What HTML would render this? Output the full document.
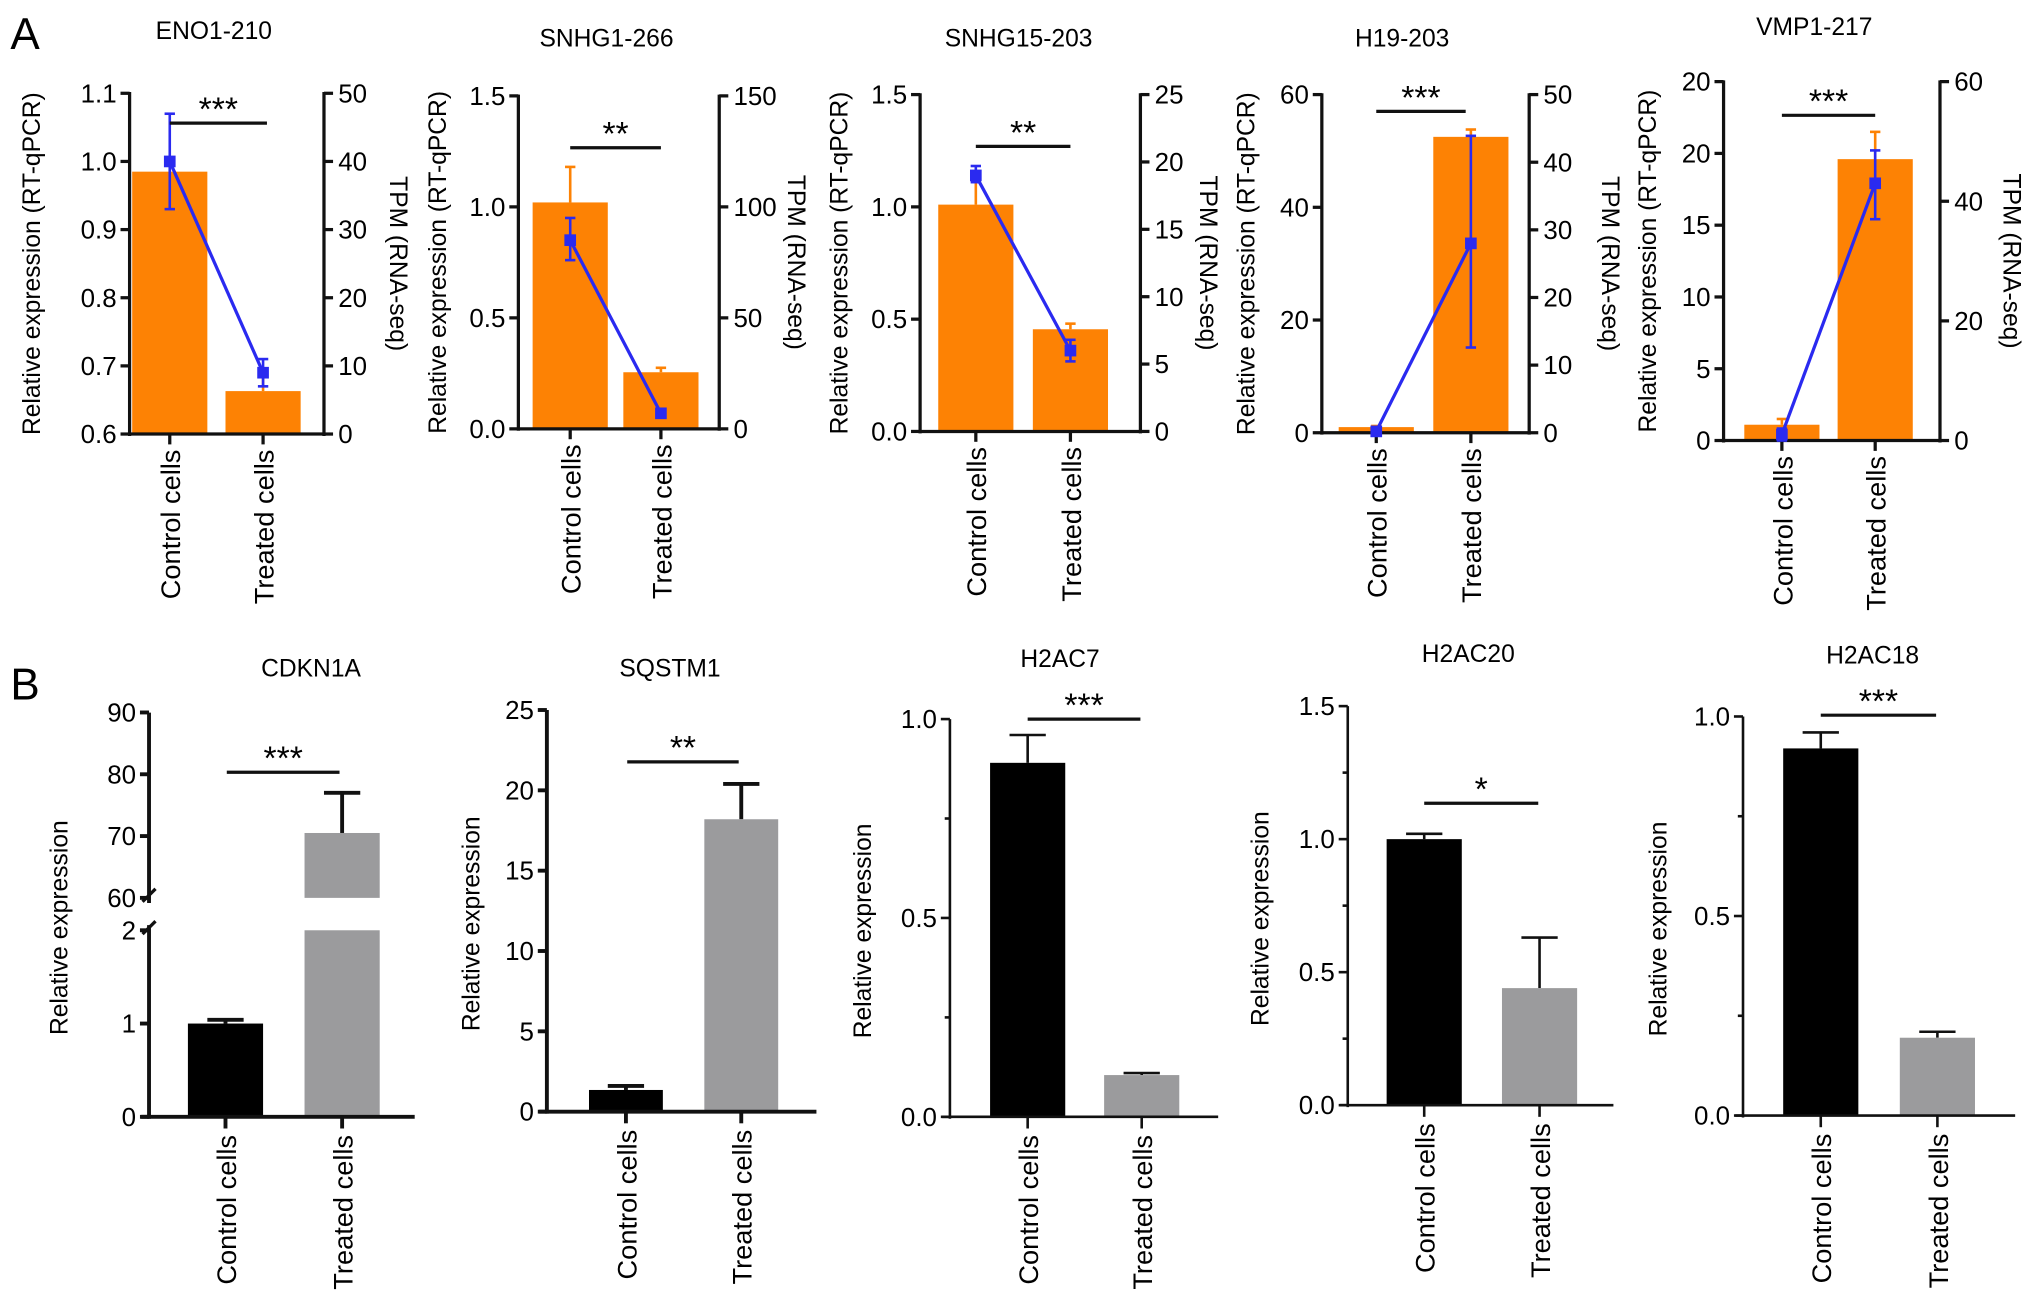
<!DOCTYPE html>
<html><head><meta charset="utf-8">
<style>
html,body{margin:0;padding:0;background:#fff;}
svg{display:block;font-family:"Liberation Sans",Arial,sans-serif;}
</style></head>
<body>
<svg id="fig" width="2032" height="1306" viewBox="0 0 1568 1008" preserveAspectRatio="none" xmlns="http://www.w3.org/2000/svg">
<text x="8" y="38" font-size="34">A</text>
<text x="8" y="540" font-size="34">B</text>
</svg>
<script>
const categories = ["Control cells","Treated cells"];
// Panel A
const aTitles = ["ENO1-210","SNHG1-266","SNHG15-203","H19-203","VMP1-217"];
const aBarVals = [[0.985,0.663],[1.02,0.255],[1.01,0.455],[1.0,52.5],[1.1,19.6]];
const aBarErr = [[1.0,0.69],[1.18,0.275],[1.12,0.48],[1.2,53.8],[1.5,21.5]];
const aLineVals = [[40,9],[85,7],[19,6],[0.2,28],[1,43]];
const aLineLo = [[33,7],[76,6],[18.5,5.2],[0,12.6],[0,37]];
const aLineHi = [[47,11],[95,8],[19.7,6.8],[0.5,43.9],[2,48.5]];
const aLeftTicks = [[0.6,0.7,0.8,0.9,1.0,1.1],[0,0.5,1.0,1.5],[0,0.5,1.0,1.5],[0,20,40,60],[0,5,10,15,20,25]];
const aLeftLabels = [["0.6","0.7","0.8","0.9","1.0","1.1"],["0.0","0.5","1.0","1.5"],["0.0","0.5","1.0","1.5"],["0","20","40","60"],["0","5","10","15","20","20"]];
const aRightTicks = [[0,10,20,30,40,50],[0,50,100,150],[0,5,10,15,20,25],[0,10,20,30,40,50],[0,20,40,60]];
const aSig = ["***","**","**","***","***"];
// Panel B
const bTitles = ["CDKN1A","SQSTM1","H2AC7","H2AC20","H2AC18"];
const bBarVals = [[1.0,70.5],[1.35,18.2],[0.89,0.105],[1.0,0.44],[0.92,0.195]];
const bBarErr = [[1.04,77],[1.6,20.4],[0.96,0.11],[1.02,0.63],[0.96,0.21]];
const bTicks = [[0,1,2,60,70,80,90],[0,5,10,15,20,25],[0,0.5,1.0],[0,0.5,1.0,1.5],[0,0.5,1.0]];
const bTickLabels = [["0","1","2","60","70","80","90"],["0","5","10","15","20","25"],["0.0","0.5","1.0"],["0.0","0.5","1.0","1.5"],["0.0","0.5","1.0"]];
const bMinor = [[],[],[0.25,0.75],[0.25,0.75,1.25],[0.25,0.75]];
const bSig = ["***","**","***","*","***"];

const aLayout = [
 {ax:100,rx:250,top:72,bot:335,min:0.6,max:1.1,rmax:50,c:[131,203],tx:165,ty:30,yl:31,yr:301,sx:[131,206],sy:95},
 {ax:400,rx:555,top:74,bot:331,min:0,max:1.5,rmax:150,c:[440,510],tx:468,ty:36,yl:344,yr:608,sx:[440,510],sy:114},
 {ax:710,rx:880,top:73,bot:333,min:0,max:1.5,rmax:25,c:[753,826],tx:786,ty:36,yl:654,yr:926,sx:[753,826],sy:113},
 {ax:1020,rx:1180,top:73,bot:334,min:0,max:60,rmax:50,c:[1062,1135],tx:1082,ty:36,yl:968,yr:1236,sx:[1062,1131],sy:86},
 {ax:1330,rx:1497,top:63,bot:340,min:0,max:25,rmax:60,c:[1375,1447],tx:1400,ty:27,yl:1278,yr:1546,sx:[1375,1447],sy:89}
];
const bLayout = [
 {ax:115,right:320,top:550,bot:862,max:90,c:[174,264],bw:58,tx:240,ty:522,yl:52,sx:[175,262],sy:596,lw:3},
 {ax:422,right:630,top:548,bot:858,max:25,c:[483,572],bw:57,tx:517,ty:522,yl:370,sx:[484,570],sy:588,lw:3},
 {ax:733,right:940,top:555,bot:862,max:1.0,c:[793,881],bw:58,tx:818,ty:515,yl:672,sx:[793,880],sy:555,lw:2},
 {ax:1040,right:1245,top:545,bot:853,max:1.5,c:[1099,1188],bw:58,tx:1133,ty:511,yl:979,sx:[1099,1187],sy:620,lw:2},
 {ax:1345,right:1555,top:553,bot:861,max:1.0,c:[1405,1495],bw:58,tx:1445,ty:512,yl:1286,sx:[1405,1494],sy:552,lw:2}
];

const NS="http://www.w3.org/2000/svg";
const svg=document.getElementById('fig');
function mk(tag,attrs,parent){const e=document.createElementNS(NS,tag);for(const k in attrs)e.setAttribute(k,attrs[k]);(parent||svg).appendChild(e);return e;}
function line(g,x1,y1,x2,y2,c,w){return mk('line',{x1:x1,y1:y1,x2:x2,y2:y2,stroke:c,'stroke-width':w},g);}
function txt(g,x,y,s,size,anchor,rot){const t=mk('text',{x:x,y:y,'font-size':size,'text-anchor':anchor||'middle'},g);if(rot!==undefined)t.setAttribute('transform','rotate('+rot+' '+x+' '+y+')');t.textContent=s;return t;}

const ORANGE="#fd8204", BLUE="#2a2af0";
aTitles.forEach((title,i)=>{
  const L=aLayout[i];
  const g=mk('g',{});
  
  
  const yL=v=>L.bot-(v-L.min)/(L.max-L.min)*(L.bot-L.top);
  const yR=v=>L.bot-v/L.rmax*(L.bot-L.top);
  const t=txt(g,L.tx,L.ty,title,19);
  
  
  categories.forEach((c,j)=>{
    const x=L.c[j];
    line(g,x,yL(aBarVals[i][j]),x,yL(aBarErr[i][j]),ORANGE,2);
    line(g,x-4,yL(aBarErr[i][j]),x+4,yL(aBarErr[i][j]),ORANGE,2);
    const b=mk('rect',{x:x-29,y:yL(aBarVals[i][j]),width:58,height:L.bot-yL(aBarVals[i][j]),fill:ORANGE},g);
    
    
  });
  line(g,L.ax,L.top-1,L.ax,L.bot+1.5,'#111',2.5);
  line(g,L.ax,L.bot,L.rx,L.bot,'#111',2.5);
  line(g,L.rx,L.top-1,L.rx,L.bot+1.5,'#111',2.5);
  aLeftTicks[i].forEach((v,k)=>{line(g,L.ax-7,yL(v),L.ax,yL(v),'#111',2.5);txt(g,L.ax-10,yL(v)+7,aLeftLabels[i][k],20,'end');});
  aRightTicks[i].forEach(v=>{line(g,L.rx,yR(v),L.rx+7,yR(v),'#111',2.5);txt(g,L.rx+11,yR(v)+7,String(v),20,'start');});
  L.c.forEach((x,j)=>{line(g,x,L.bot,x,L.bot+8,'#111',2.5);const xl=txt(g,x+8,L.bot+12,categories[j],21,'end',-90);});
  const yt=txt(g,L.yl,(L.top+L.bot)/2,'Relative expression (RT-qPCR)',19,'middle',-90);
  
  
  const rt=txt(g,L.yr,(L.top+L.bot)/2,'TPM (RNA-seq)',19,'middle',90);
  
  
  const pts=L.c.map((x,j)=>x+','+yR(aLineVals[i][j])).join(' ');
  const pl=mk('polyline',{points:pts,fill:'none',stroke:BLUE,'stroke-width':2.5},g);
  
  
  L.c.forEach((x,j)=>{
    line(g,x,yR(aLineLo[i][j]),x,yR(aLineHi[i][j]),BLUE,2);
    line(g,x-4,yR(aLineLo[i][j]),x+4,yR(aLineLo[i][j]),BLUE,2);
    line(g,x-4,yR(aLineHi[i][j]),x+4,yR(aLineHi[i][j]),BLUE,2);
    const m=mk('rect',{x:x-4.5,y:yR(aLineVals[i][j])-4.5,width:9,height:9,fill:BLUE},g);
    
    
  });
  line(g,L.sx[0],L.sy,L.sx[1],L.sy,'#111',2.5);
  const s=txt(g,(L.sx[0]+L.sx[1])/2,L.sy-2,aSig[i],26,'middle');
  
  
});

bTitles.forEach((title,i)=>{
  const L=bLayout[i];
  const g=mk('g',{});
  
  
  let y;
  if(i===0){
    y=v=>v<=2?L.bot-v*72:693-(v-60)*4.77;
  } else {
    y=v=>L.bot-v/L.max*(L.bot-L.top);
  }
  const t=txt(g,L.tx,L.ty,title,19);
  
  
  const cols=['#000','#9b9b9d'];
  categories.forEach((c,j)=>{
    const x=L.c[j];
    const v=bBarVals[i][j], ev=bBarErr[i][j];
    line(g,x,y(v),x,y(ev),'#111',L.lw);
    line(g,x-14,y(ev),x+14,y(ev),'#111',L.lw);
    if(i===0 && v>2){
      const b1=mk('rect',{x:x-L.bw/2,y:y(2),width:L.bw,height:L.bot-y(2),fill:cols[j]},g);
      
      
      const b2=mk('rect',{x:x-L.bw/2,y:y(v),width:L.bw,height:y(60)-y(v),fill:cols[j]},g);
      
      
    } else {
      const b=mk('rect',{x:x-L.bw/2,y:y(v),width:L.bw,height:L.bot-y(v),fill:cols[j]},g);
      
      
    }
  });
  if(i===0){
    line(g,L.ax,L.top,L.ax,y(60)+4,'#111',L.lw);
    line(g,L.ax,y(2)-4,L.ax,L.bot+1.5,'#111',L.lw);
    line(g,L.ax-5,y(60)+3,L.ax+5,y(60)-7,'#111',2.5);
    line(g,L.ax-5,y(2)+3,L.ax+5,y(2)-7,'#111',2.5);
  } else {
    line(g,L.ax,L.top,L.ax,L.bot+1.5,'#111',L.lw);
  }
  line(g,L.ax-6,L.bot,L.right,L.bot,'#111',L.lw);
  bTicks[i].forEach((v,k)=>{line(g,L.ax-7,y(v),L.ax,y(v),'#111',L.lw);txt(g,L.ax-10,y(v)+7,bTickLabels[i][k],20,'end');});
  bMinor[i].forEach(v=>{line(g,L.ax-4,y(v),L.ax,y(v),'#111',L.lw);});
  L.c.forEach((x,j)=>{line(g,x,L.bot,x,L.bot+9,'#111',L.lw);const xl=txt(g,x+8,L.bot+14,categories[j],21,'end',-90);});
  const yt=txt(g,L.yl,(L.top+L.bot)/2+10,'Relative expression',19,'middle',-90);
  
  
  line(g,L.sx[0],L.sy,L.sx[1],L.sy,'#111',2.5);
  const s=txt(g,(L.sx[0]+L.sx[1])/2,L.sy-2,bSig[i],26,'middle');
  
  
});
</script>
</body></html>
